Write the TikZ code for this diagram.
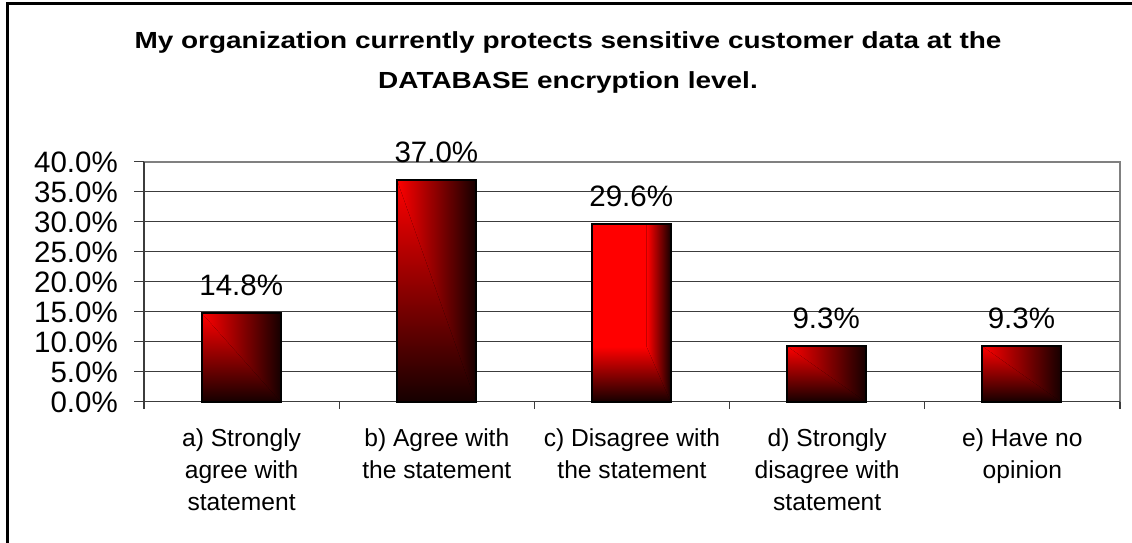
\documentclass[tikz,border=0pt]{standalone}
\usepackage{fontspec}
\setmainfont{Liberation Sans}
\newfontfamily\titlefont[FakeStretch=1.2]{Liberation Sans}
\definecolor{cdark}{RGB}{22,0,0}
\definecolor{gridc}{RGB}{60,60,60}
\definecolor{framec}{RGB}{128,128,128}
\pgfdeclarehorizontalshading{cornerh}{100bp}{color(0bp)=(red); color(60bp)=(red); color(75bp)=(cdark); color(100bp)=(cdark)}
\pgfdeclareverticalshading{cornerv}{100bp}{color(0bp)=(cdark); color(25bp)=(cdark); color(40.5bp)=(red); color(100bp)=(red)}
\tikzset{
  gridline/.style={draw=gridc, line width=1.2pt},
  plotframe/.style={draw=framec, line width=2pt},
  valuelabel/.style={font=\fontsize{29.5}{33}\selectfont, anchor=base, inner sep=0pt},
  ticklabel/.style={font=\fontsize{29.5}{33}\selectfont, anchor=base east, inner sep=0pt},
  catlabel/.style={font=\fontsize{24.6}{32}\selectfont, align=center, anchor=north, inner sep=0pt},
  titlestyle/.style={font=\titlefont\bfseries\fontsize{23.3}{40}\selectfont, align=center, anchor=north, inner sep=0pt},
  barframe/.style={draw=black, line width=2pt},
}
\begin{document}
\begin{tikzpicture}[x=1pt,y=-1pt]
\useasboundingbox (0,0) rectangle (1132,543);
\fill[white] (0,0) rectangle (1132,543);
% chart frame (only top and left visible)
\coordinate (frameBL) at (7.3,545);
\coordinate (frameTL) at (7.3,3.5);
\coordinate (frameTR) at (1134,3.5);
\draw[line width=2.5pt] (frameBL) -- (frameTL) -- (frameTR);

% title
\node[titlestyle] (title) at (568,31.6) {My organization currently protects sensitive customer data at the\\DATABASE encryption level.};

% gridlines with left ticks
\foreach \k in {1,...,7}{
  \draw[gridline] (134,401.7-30*\k) -- (1120,401.7-30*\k);
}
% plot area border (top and right)
\draw[gridline] (134,161.7) -- (144,161.7);
\draw[plotframe] (144,161.7) -- (1120,161.7) -- (1120,401.7);
% x axis
\draw[gridline] (134,401.7) -- (1120,401.7);
% y axis
\draw[gridline] (144,161.7) -- (144,408.5);
% category ticks
\foreach \k in {1,...,5}{
  \draw[gridline] (144+195.2*\k,401.7) -- (144+195.2*\k,408.5);
}

% y tick labels
\foreach \v/\t in {0/0.0,5/5.0,10/10.0,15/15.0,20/20.0,25/25.0,30/30.0,35/35.0,40/40.0}{
  \node[ticklabel] (ytl\v) at (118,401.7-6*\v+10.7) {\t\%};
}

% bars: corner gradient (colour follows the larger of normalised x and y)
\foreach \c/\top/\n in {241.2/312.9/a, 436.4/179.7/b, 826.2/345.9/d, 1021.4/345.9/e}{
  \fill[top color=red, bottom color=cdark] (\c-39.5,\top) rectangle (\c+39.5,401.7);
  \fill[left color=red, right color=cdark] (\c-39.5,\top) -- (\c+39.5,\top) -- (\c+39.5,401.7) -- cycle;
  \draw[barframe] (\c-39.5,\top) rectangle (\c+39.5,401.7);
}
% bar c: red with dark right and bottom edges
\fill[shading=cornerv] (631.2-39.5,224.1) rectangle (631.2+39.5,401.7);
\fill[shading=cornerh] (631.2-39.5,224.1) -- (631.2+39.5,224.1) -- (631.2+39.5,401.7) -- (631.2+15.5,346.7) -- (631.2+15.5,224.1) -- cycle;
\draw[barframe] (631.2-39.5,224.1) rectangle (631.2+39.5,401.7);

% value labels
\node[valuelabel] (va) at (241.2,312.9-17.5) {14.8\%};
\node[valuelabel] (vb) at (436.4,179.7-17.5) {37.0\%};
\node[valuelabel] (vc) at (631.2,224.1-17.5) {29.6\%};
\node[valuelabel] (vd) at (826.2,345.9-17.5) {9.3\%};
\node[valuelabel] (ve) at (1021.4,345.9-17.5) {9.3\%};

% category labels
\node[catlabel] (ca) at (241.6,428) {a) Strongly\\agree with\\statement};
\node[catlabel] (cb) at (436.8,428) {b) Agree with\\the statement};
\node[catlabel] (cc) at (632.0,428) {c) Disagree with\\the statement};
\node[catlabel] (cd) at (827.2,428) {d) Strongly\\disagree with\\statement};
\node[catlabel] (ce) at (1022.4,428) {e) Have no\\opinion};
\end{tikzpicture}
\end{document}
